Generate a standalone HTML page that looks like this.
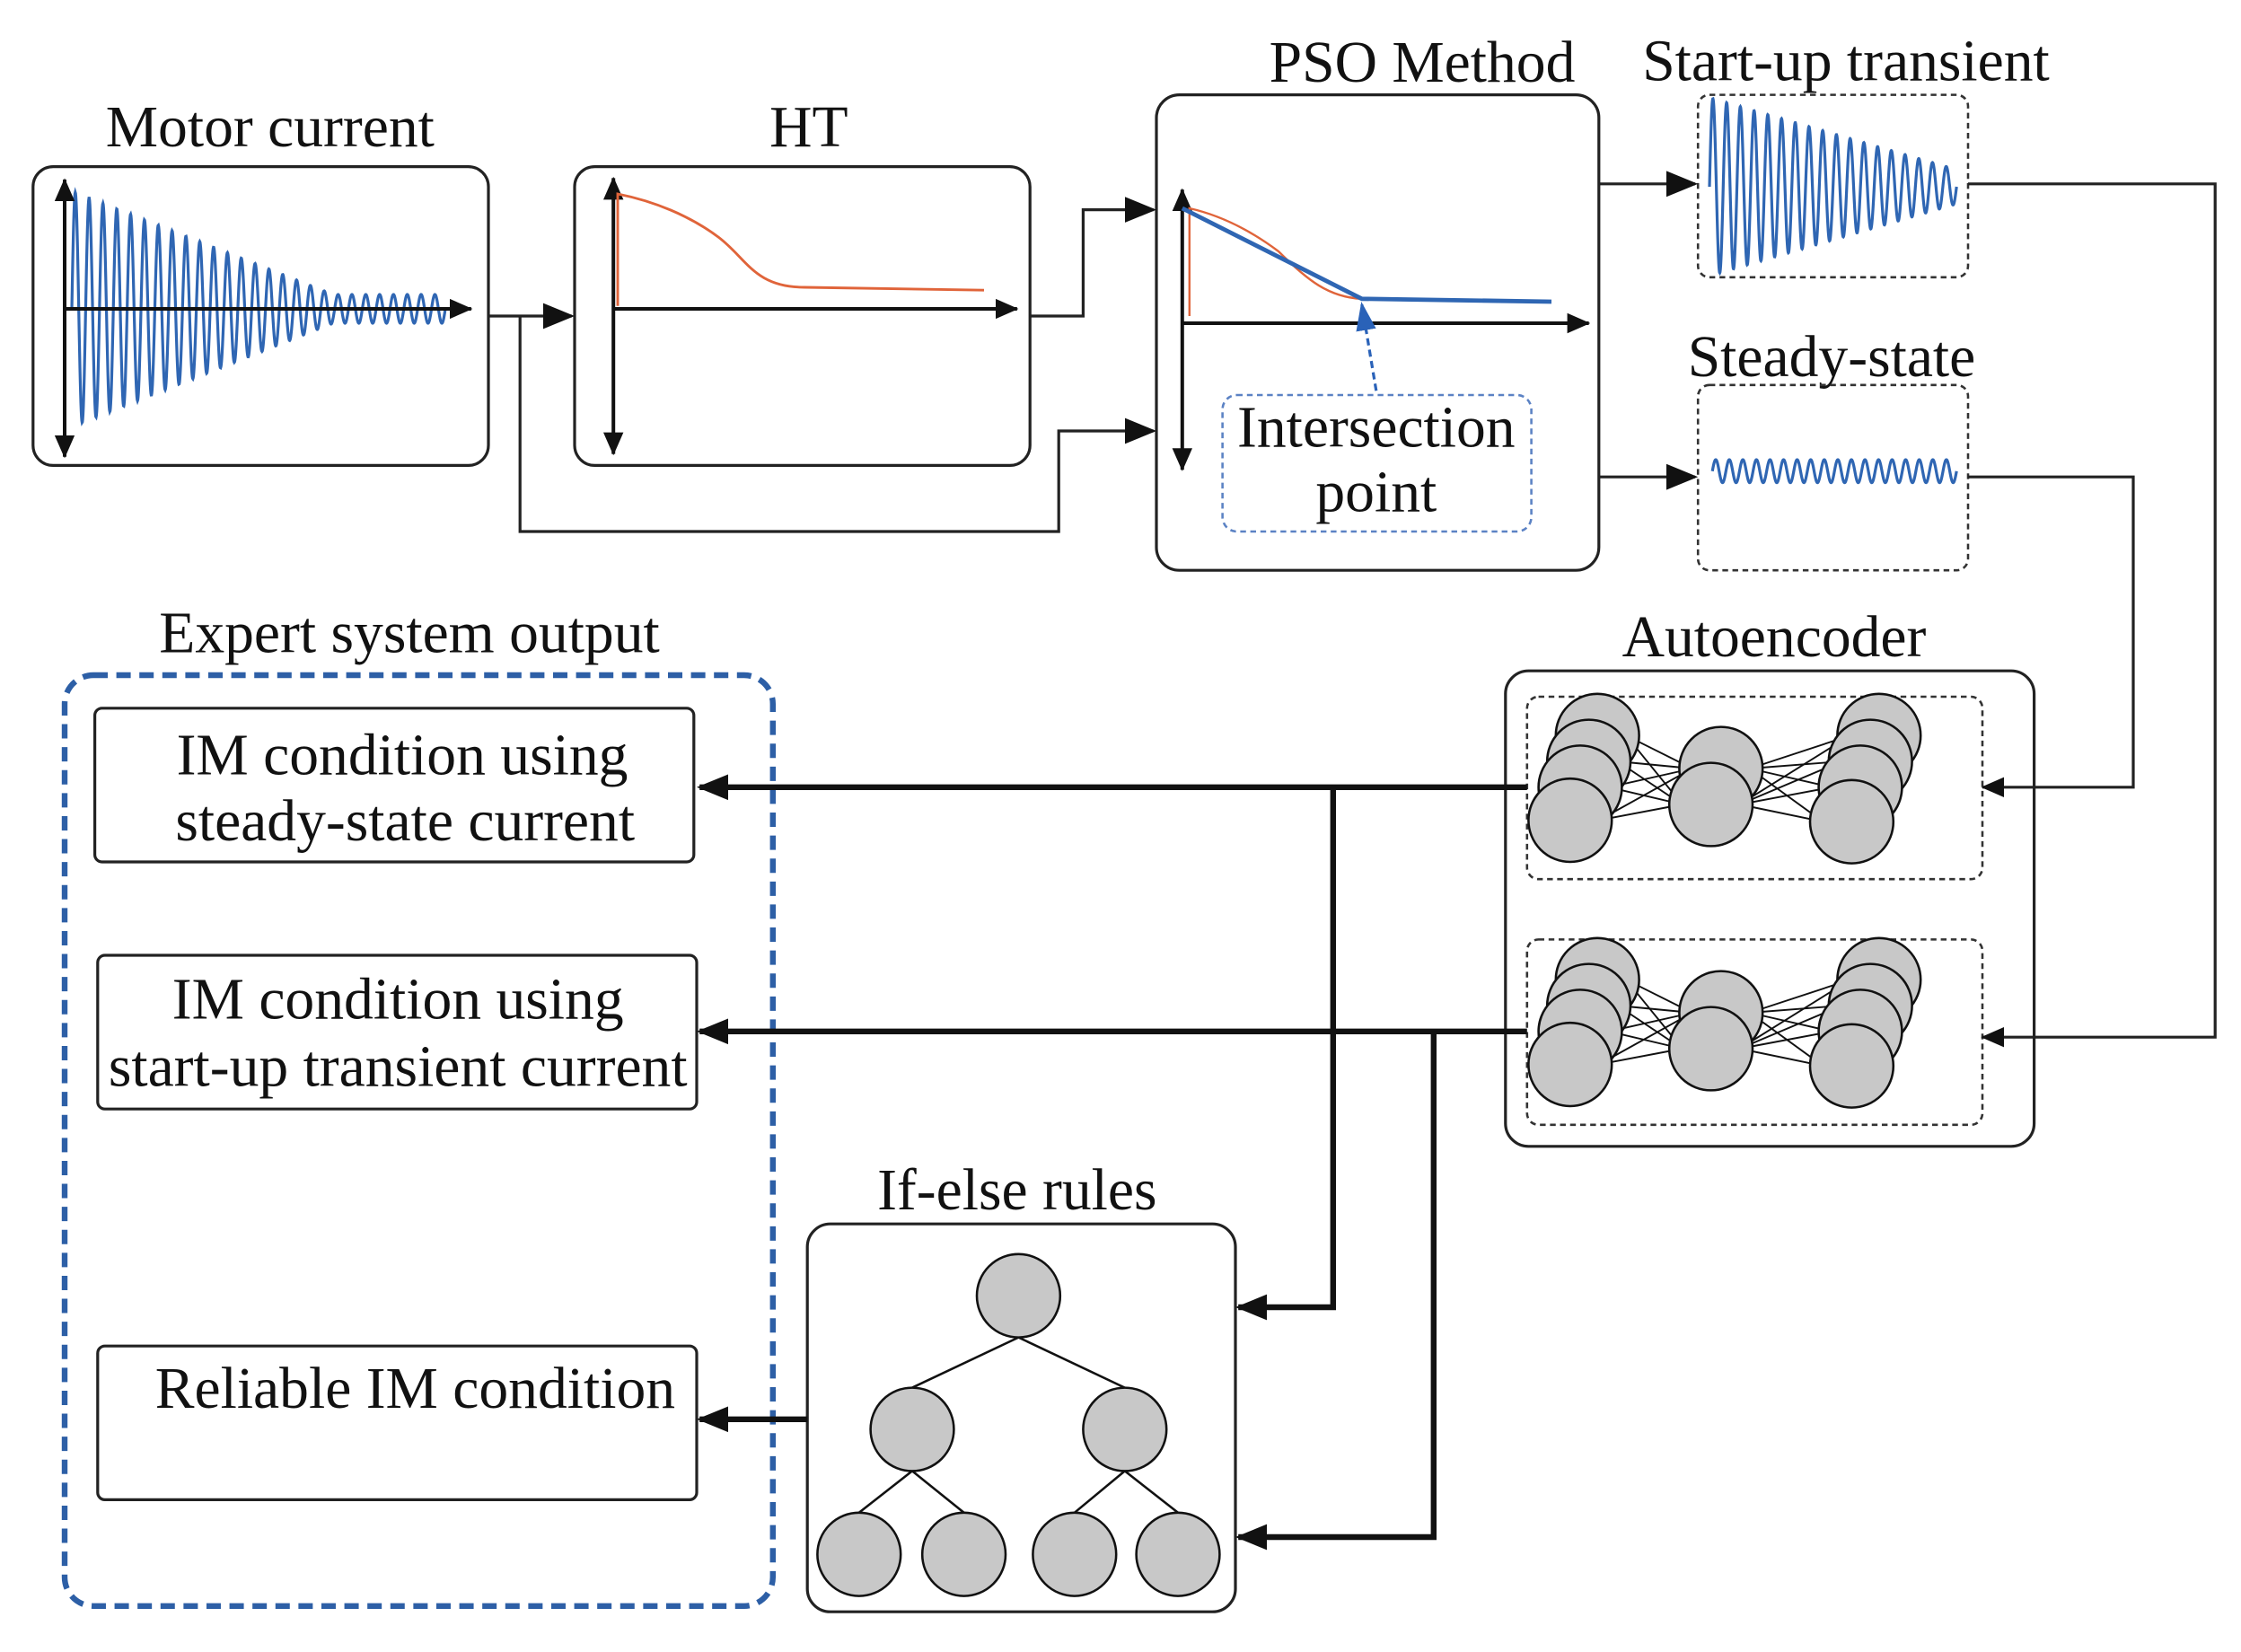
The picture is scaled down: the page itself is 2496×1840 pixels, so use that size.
<!DOCTYPE html>
<html><head><meta charset="utf-8">
<style>
html,body{margin:0;padding:0;background:#fff;}
svg{display:block;}
text{font-family:"Liberation Serif",serif;font-size:41px;fill:#111;}
</style></head>
<body>
<svg id="s" width="2496" height="1840" viewBox="0 0 1560 1150" xmlns="http://www.w3.org/2000/svg">
<defs>
<marker id="ah" markerWidth="10" markerHeight="10" refX="9" refY="5" orient="auto" markerUnits="userSpaceOnUse" viewBox="0 0 10 10">
<path d="M0,0 L10,5 L0,10 z" fill="#111"/></marker>
<marker id="ahb" markerWidth="22" markerHeight="22" refX="20" refY="11" orient="auto" markerUnits="userSpaceOnUse" viewBox="0 0 22 22">
<path d="M0,2 L22,11 L0,20 z" fill="#111"/></marker>
<marker id="ahs" markerWidth="16" markerHeight="16" refX="15" refY="8" orient="auto" markerUnits="userSpaceOnUse" viewBox="0 0 16 16">
<path d="M0,1 L16,8 L0,15 z" fill="#111"/></marker>
<marker id="ahblue" markerWidth="20" markerHeight="20" refX="18" refY="10" orient="auto" markerUnits="userSpaceOnUse" viewBox="0 0 20 20">
<path d="M0,3 L20,10 L0,17 z" fill="#2a62b8"/></marker>
</defs>
<rect width="1560" height="1150" fill="#fff"/>

<text x="188" y="102" text-anchor="middle">Motor current</text>
<text x="563" y="102" text-anchor="middle">HT</text>
<text x="990" y="57" text-anchor="middle">PSO Method</text>
<text x="1285" y="56" text-anchor="middle">Start-up transient</text>
<text x="1275" y="262" text-anchor="middle">Steady-state</text>
<text x="1235" y="457" text-anchor="middle">Autoencoder</text>
<text x="285" y="454" text-anchor="middle">Expert system output</text>
<text x="708" y="842" text-anchor="middle">If-else rules</text>

<g fill="none" stroke="#222" stroke-width="2">
<rect x="23" y="116" width="317" height="208" rx="14"/>
<rect x="400" y="116" width="317" height="208" rx="14"/>
<rect x="805" y="66" width="308" height="331" rx="16"/>
<rect x="1048" y="467" width="368" height="331" rx="16"/>
<rect x="562" y="852" width="298" height="270" rx="16"/>
<rect x="66" y="493" width="417" height="107" rx="5"/>
<rect x="68" y="665" width="417" height="107" rx="5"/>
<rect x="68" y="937" width="417" height="107" rx="5"/>
</g>
<g fill="none" stroke="#333" stroke-width="1.6" stroke-dasharray="4,3">
<rect x="1182" y="66" width="188" height="127" rx="8"/>
<rect x="1182" y="268" width="188" height="129" rx="8"/>
<rect x="1063" y="485" width="317" height="127" rx="8"/>
<rect x="1063" y="654" width="317" height="129" rx="8"/>
</g>
<rect x="45" y="470" width="493" height="648" rx="20" fill="none" stroke="#2d5fa6" stroke-width="4" stroke-dasharray="10,6"/>
<rect x="851" y="275" width="215" height="95" rx="10" fill="none" stroke="#5b82c4" stroke-width="1.6" stroke-dasharray="4,3"/>

<path id="w1" fill="none" stroke="#2f66b3" stroke-width="2"/>
<path id="w2" fill="none" stroke="#2f66b3" stroke-width="2"/>
<path id="w3" fill="none" stroke="#2f66b3" stroke-width="2"/>

<g stroke="#111" stroke-width="2.5" fill="none">
<line x1="45" y1="215" x2="328" y2="215" marker-end="url(#ahs)"/>
<line x1="45" y1="215" x2="45" y2="125" marker-end="url(#ahs)"/>
<line x1="45" y1="215" x2="45" y2="318" marker-end="url(#ahs)"/>
<line x1="427" y1="215" x2="708" y2="215" marker-end="url(#ahs)"/>
<line x1="427" y1="215" x2="427" y2="124" marker-end="url(#ahs)"/>
<line x1="427" y1="215" x2="427" y2="316" marker-end="url(#ahs)"/>
<line x1="823" y1="225" x2="1106" y2="225" marker-end="url(#ahs)"/>
<line x1="823" y1="225" x2="823" y2="132" marker-end="url(#ahs)"/>
<line x1="823" y1="225" x2="823" y2="327" marker-end="url(#ahs)"/>
</g>
<path d="M430,213 L430,135 C455,140 480,150 500,165 C520,180 525,200 560,200 L685,202" fill="none" stroke="#e0643a" stroke-width="1.8"/>
<path d="M828,220 L828,145 C850,150 870,160 890,175 C910,195 925,207 948,208 L1080,210" fill="none" stroke="#e0643a" stroke-width="1.5"/>
<path d="M823,145 L948,208 L1080,210" fill="none" stroke="#2f66b3" stroke-width="3"/>
<line x1="958" y1="272" x2="948" y2="212" stroke="#2a62b8" stroke-width="2" stroke-dasharray="5,3" marker-end="url(#ahblue)"/>
<text x="958" y="311" text-anchor="middle">Intersection</text>
<text x="958" y="356" text-anchor="middle">point</text>

<g stroke="#222" stroke-width="2" fill="none">
<line x1="340" y1="220" x2="398" y2="220" marker-end="url(#ahb)"/>
<polyline points="362,220 362,370 737,370 737,300 803,300" marker-end="url(#ahb)"/>
<polyline points="717,220 754,220 754,146 803,146" marker-end="url(#ahb)"/>
<line x1="1113" y1="128" x2="1180" y2="128" marker-end="url(#ahb)"/>
<line x1="1113" y1="332" x2="1180" y2="332" marker-end="url(#ahb)"/>
<polyline points="1370,128 1542,128 1542,722 1380,722" marker-end="url(#ahs)"/>
<polyline points="1370,332 1485,332 1485,548 1380,548" marker-end="url(#ahs)"/>
</g>
<g stroke="#111" stroke-width="4" fill="none">
<line x1="1063" y1="548" x2="487" y2="548" marker-end="url(#ahb)"/>
<line x1="1063" y1="718" x2="487" y2="718" marker-end="url(#ahb)"/>
<polyline points="928,548 928,910 862,910" marker-end="url(#ahb)"/>
<polyline points="998,718 998,1070 862,1070" marker-end="url(#ahb)"/>
<line x1="562" y1="988" x2="487" y2="988" marker-end="url(#ahb)"/>
</g>

<g id="net1"></g>

<g stroke="#111" stroke-width="1.6">
<line x1="709" y1="931" x2="635" y2="966"/>
<line x1="709" y1="931" x2="783" y2="966"/>
<line x1="635" y1="1024" x2="598" y2="1053"/>
<line x1="635" y1="1024" x2="671" y2="1053"/>
<line x1="783" y1="1024" x2="748" y2="1053"/>
<line x1="783" y1="1024" x2="820" y2="1053"/>
</g>
<g fill="#c8c8c8" stroke="#111" stroke-width="1.6">
<circle cx="709" cy="902" r="29"/>
<circle cx="635" cy="995" r="29"/>
<circle cx="783" cy="995" r="29"/>
<circle cx="598" cy="1082" r="29"/>
<circle cx="671" cy="1082" r="29"/>
<circle cx="748" cy="1082" r="29"/>
<circle cx="820" cy="1082" r="29"/>
</g>

<text x="280" y="539" text-anchor="middle">IM condition using</text>
<text x="282" y="585" text-anchor="middle">steady-state current</text>
<text x="277" y="709" text-anchor="middle">IM condition using</text>
<text x="277" y="756" text-anchor="middle">start-up transient current</text>
<text x="289" y="980" text-anchor="middle">Reliable IM condition</text>
</svg>
<script>
(function(){
function wave(x0,x1,y,cycles,amp){
 var d="",n=1200;
 for(var i=0;i<=n;i++){
  var t=i/n,x=x0+(x1-x0)*t;
  var a=amp(t);
  var yy=y-a*Math.sin(2*Math.PI*cycles*t);
  d+=(i?"L":"M")+x.toFixed(2)+","+yy.toFixed(2);
 }
 return d;
}
document.getElementById("w1").setAttribute("d",wave(50,310,215,27,function(t){return t<0.7?82-(82-10)*t/0.7:10;}));
document.getElementById("w2").setAttribute("d",wave(1190,1362,130,18,function(t){return 62-50*t;}));
document.getElementById("w3").setAttribute("d",wave(1192,1362,328,18,function(t){return 8;}));
var ns="http://www.w3.org/2000/svg",g=document.getElementById("net1");
function c(x,y){var e=document.createElementNS(ns,"circle");e.setAttribute("cx",x);e.setAttribute("cy",y);e.setAttribute("r",29);e.setAttribute("fill","#c8c8c8");e.setAttribute("stroke","#111");e.setAttribute("stroke-width","1.6");g.appendChild(e);}
function l(x1,y1,x2,y2){var e=document.createElementNS(ns,"line");e.setAttribute("x1",x1);e.setAttribute("y1",y1);e.setAttribute("x2",x2);e.setAttribute("y2",y2);e.setAttribute("stroke","#111");e.setAttribute("stroke-width","1.2");g.appendChild(e);}
[0,170].forEach(function(dy){
 var L=[[1112,512],[1106,530],[1100,548],[1093,571]];
 var M=[[1198,535],[1191,560]];
 var R=[[1308,512],[1302,530],[1295,548],[1289,572]];
 L.forEach(function(p){M.forEach(function(q){l(p[0]+20,p[1]+dy,q[0]-20,q[1]+dy);});});
 M.forEach(function(q){R.forEach(function(p){l(q[0]+20,q[1]+dy,p[0]-20,p[1]+dy);});});
 L.forEach(function(p){c(p[0],p[1]+dy);});
 M.forEach(function(p){c(p[0],p[1]+dy);});
 R.forEach(function(p){c(p[0],p[1]+dy);});
});
})();
</script>
</body></html>
